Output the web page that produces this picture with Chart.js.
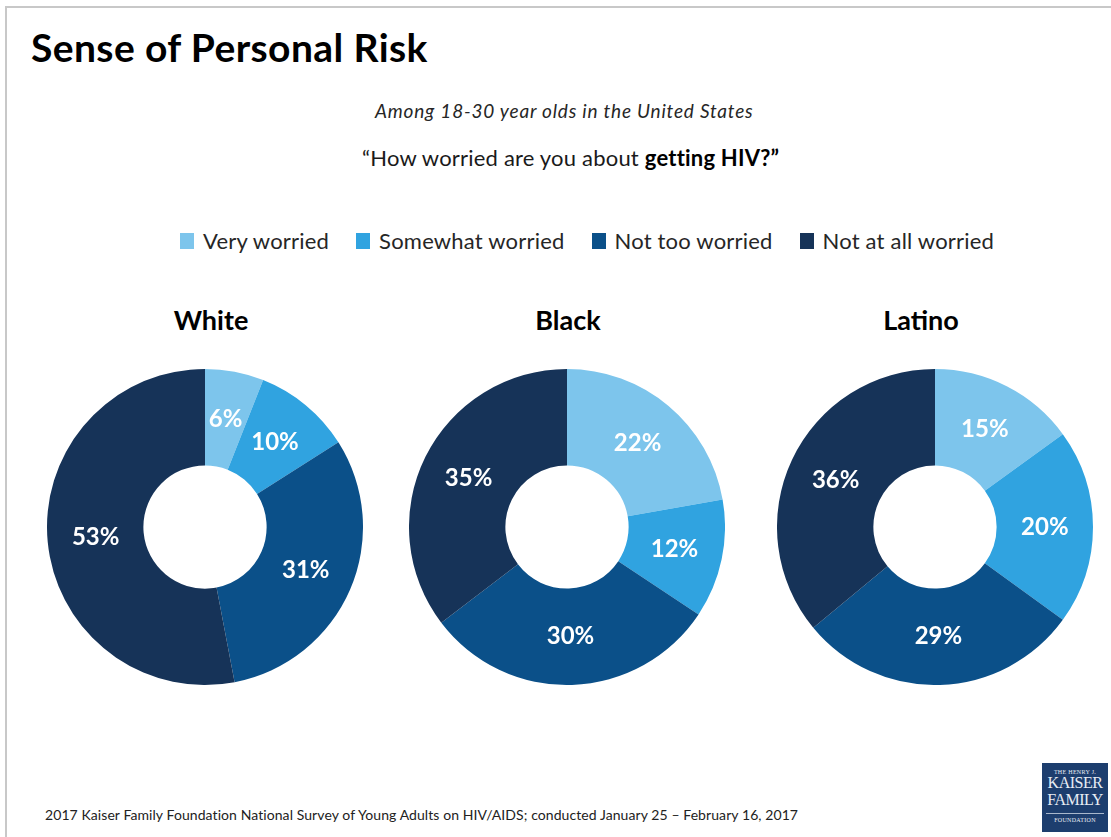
<!DOCTYPE html>
<html lang="en">
<head>
  <meta charset="UTF-8" />
  <title>Sense of Personal Risk</title>
  <script src="https://cdn.jsdelivr.net/npm/chart.js"></script>
  <style>
    html, body { margin: 0; padding: 0; background: #fff; }
    body {
      width: 1111px; height: 837px; position: relative; overflow: hidden;
      font-family: 'Lato', 'Open Sans', sans-serif; color: #000;
    }
    .frame {
      position: absolute; left: 5px; top: 6px; right: -5px; bottom: -5px;
      border-top: 2px solid #c8c8c8; border-left: 2px solid #c8c8c8;
    }
    .title {
      position: absolute; left: 31px; top: 24px;
      font-size: 39px; font-weight: 700; letter-spacing: 0.4px;
    }
    .sub {
      position: absolute; left: 375px; top: 99px;
      font-size: 19px; font-style: italic; color: #262626; letter-spacing: 0.8px;
      white-space: nowrap;
    }
    .question {
      position: absolute; left: 362px; top: 144px;
      font-size: 22px; color: #1a1a1a; letter-spacing: 0.2px; white-space: nowrap;
    }
    .question b { font-weight: 700; color: #000; }
    #legend {
      position: absolute; left: 180px; top: 227px;
      display: flex; gap: 27px; font-size: 22px; color: #262626; letter-spacing: 0.2px;
      white-space: nowrap;
    }
    #legend span.item { display: flex; align-items: center; }
    #legend span.box { width: 14px; height: 16px; margin-right: 9px; display: inline-block; }
    .group { position: absolute; top: 303px; width: 340px; text-align: center;
      font-size: 27px; font-weight: 700; }
    canvas { position: absolute; top: 369px; }
    .source {
      position: absolute; left: 45px; top: 806px; font-size: 14px; color: #222;
      letter-spacing: 0.08px; white-space: nowrap;
    }
    .logo {
      position: absolute; left: 1042px; top: 763px; width: 66px; height: 69px;
      background: #1d3e6e; color: #e8edf4; text-align: center;
      font-family: 'Liberation Serif', 'DejaVu Serif', serif; line-height: 1;
    }
    .logo .s { font-size: 6px; letter-spacing: 0.3px; margin-top: 6px; }
    .logo .b { font-size: 16px; letter-spacing: -0.5px; }
    .logo .b + .b { margin-top: 1px; }
    .logo .s2 { font-size: 6px; letter-spacing: 0.3px; margin-top: 5px;
      border-top: 1px solid #a9b8cc; padding-top: 3px; margin-left: 4px; margin-right: 4px; }
  </style>
</head>
<body>
<div class="frame"></div>
<div class="title">Sense of Personal Risk</div>
<div class="sub">Among 18-30 year olds in the United States</div>
<div class="question">“How worried are you about <b>getting HIV?”</b></div>
<div id="legend"></div>

<div class="group" style="left:41px">White</div>
<div class="group" style="left:398px">Black</div>
<div class="group" style="left:751px">Latino</div>

<canvas id="chartWhite" width="316" height="316" style="left:47px"></canvas>
<canvas id="chartBlack" width="316" height="316" style="left:409px"></canvas>
<canvas id="chartLatino" width="316" height="316" style="left:777px"></canvas>

<div class="source">2017 Kaiser Family Foundation National Survey of Young Adults on HIV/AIDS; conducted January 25 – February 16, 2017</div>
<div class="logo">
  <div class="s">THE HENRY J.</div>
  <div class="b">KAISER</div>
  <div class="b">FAMILY</div>
  <div class="s2">FOUNDATION</div>
</div>

<script>
  // categories + colours
  const categories = ['Very worried', 'Somewhat worried', 'Not too worried', 'Not at all worried'];
  const colors = ['#7dc5ec', '#30a3e0', '#0b5089', '#163358'];

  // percent values per group
  const whiteValues = [6, 10, 31, 53];
  const blackValues = [22, 12, 30, 35];
  const latinoValues = [15, 20, 29, 36];

  // legend
  const legend = document.getElementById('legend');
  categories.forEach((c, i) => {
    const item = document.createElement('span');
    item.className = 'item';
    item.innerHTML = `<span class="box" style="background:${colors[i]}"></span>${c}`;
    legend.appendChild(item);
  });

  // white % labels in the middle of each ring slice
  const sliceLabels = {
    id: 'sliceLabels',
    afterDatasetsDraw(chart) {
      const ctx = chart.ctx;
      const meta = chart.getDatasetMeta(0);
      const data = chart.data.datasets[0].data;
      ctx.save();
      ctx.fillStyle = '#fff';
      ctx.font = "bold 24px Lato, 'Open Sans', sans-serif";
      ctx.textAlign = 'center';
      ctx.textBaseline = 'middle';
      meta.data.forEach((arc, i) => {
        const p = arc.tooltipPosition();
        ctx.fillText(data[i] + '%', p.x, p.y);
      });
      ctx.restore();
    }
  };

  function makeDonut(id, values) {
    new Chart(document.getElementById(id), {
      type: 'doughnut',
      data: {
        labels: categories,
        datasets: [{
          data: values,
          backgroundColor: colors,
          borderWidth: 0
        }]
      },
      options: {
        responsive: false,
        animation: false,
        cutout: '39%',
        layout: { padding: 0 },
        plugins: {
          legend: { display: false },
          tooltip: { enabled: false }
        }
      },
      plugins: [sliceLabels]
    });
  }

  makeDonut('chartWhite', whiteValues);
  makeDonut('chartBlack', blackValues);
  makeDonut('chartLatino', latinoValues);
</script>
</body>
</html>
